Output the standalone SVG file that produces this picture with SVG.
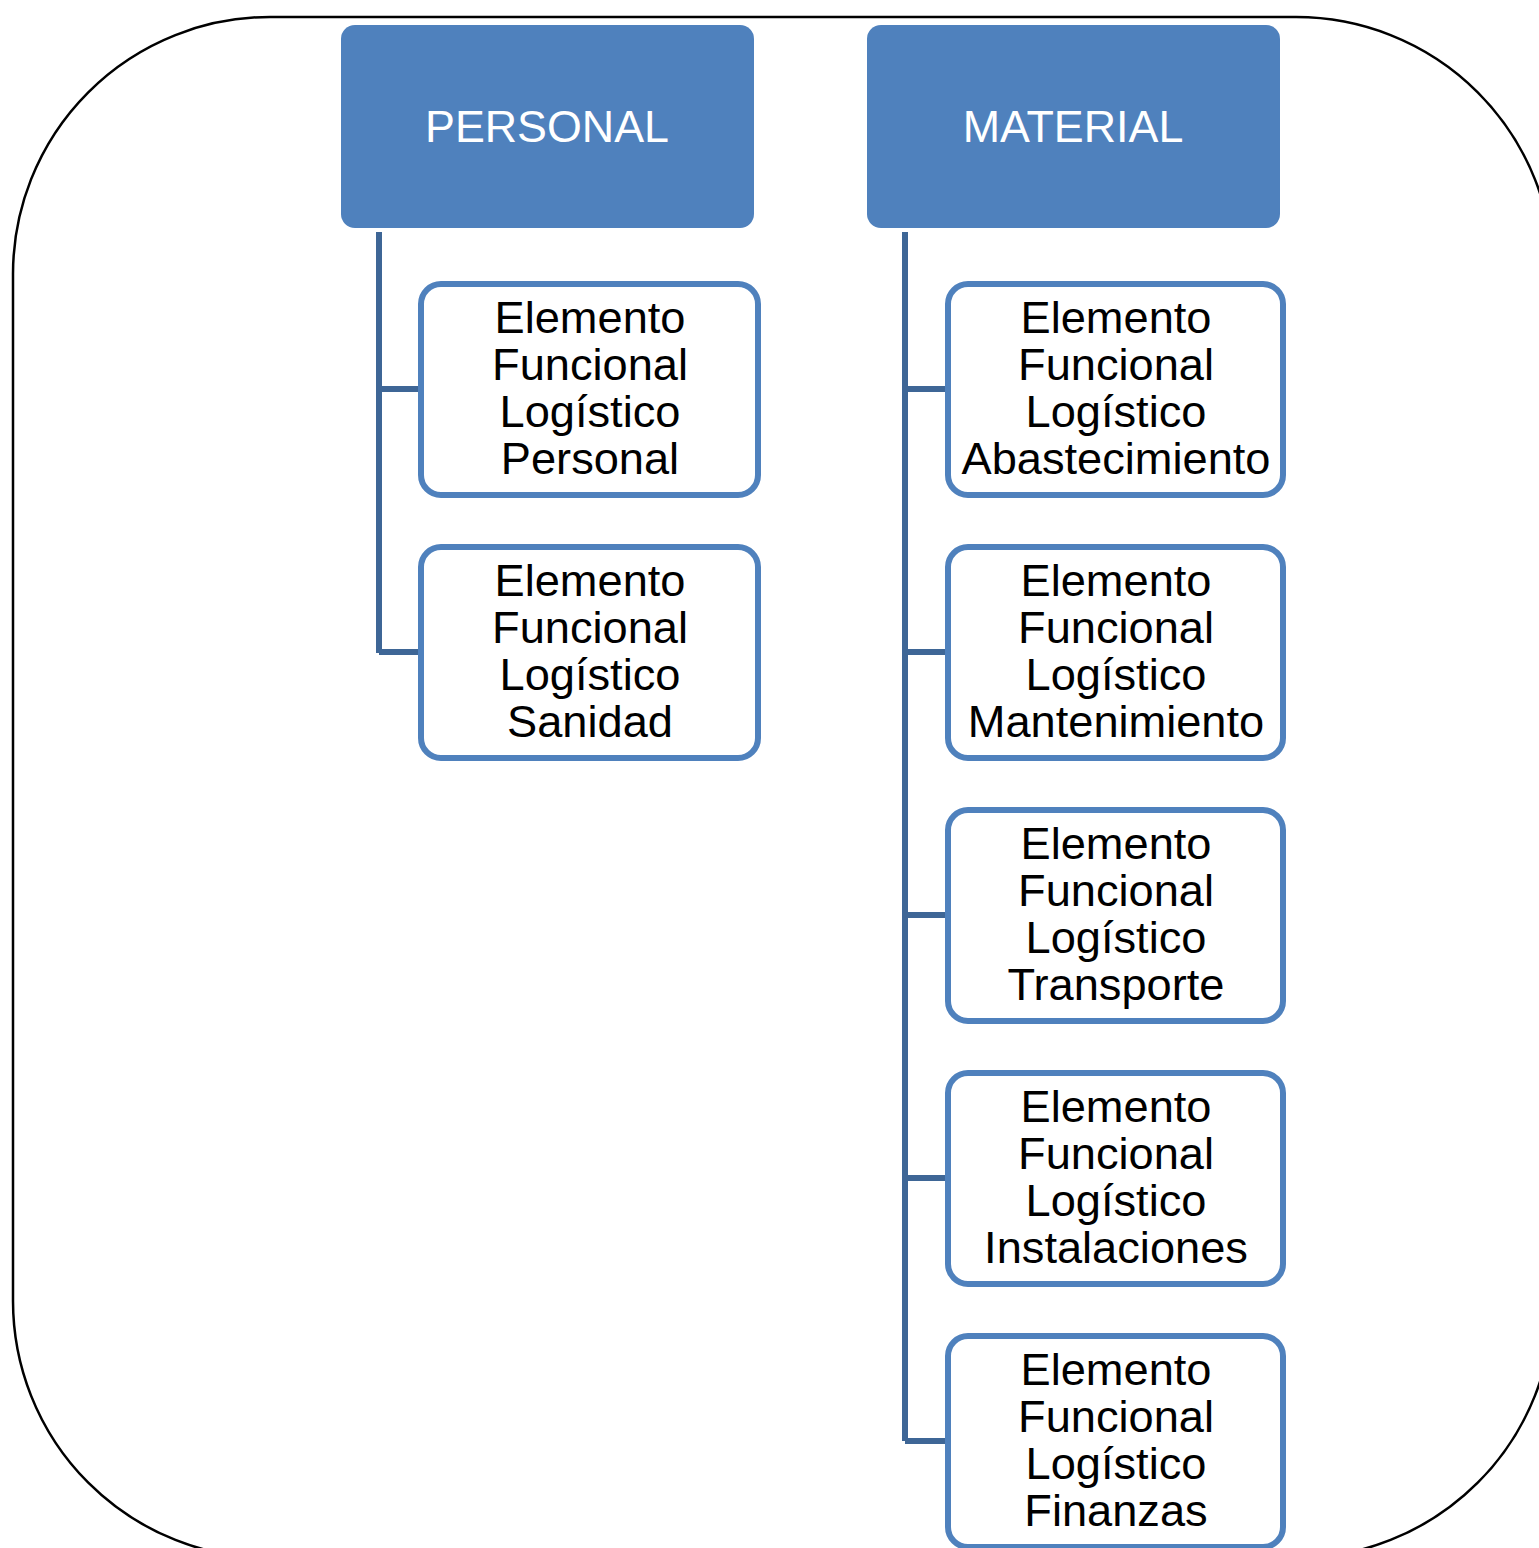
<svg xmlns="http://www.w3.org/2000/svg" width="1539" height="1548" viewBox="0 0 1539 1548">
<style>
.frame{fill:none;stroke:#000;stroke-width:2.5}
.head{fill:#4F81BD}
.headtxt{font-family:"Liberation Sans",Arial,sans-serif;font-size:44.8px;fill:#fff;text-anchor:middle}
.child{fill:#fff;stroke:#4F81BD;stroke-width:6}
.childtxt{font-family:"Liberation Sans",Arial,sans-serif;font-size:45.2px;fill:#000;text-anchor:middle}
.conn{fill:none;stroke:#3E6696;stroke-width:6;stroke-linejoin:round}
</style>
<rect width="1539" height="1548" fill="#fff"/>
<rect class="frame" x="13" y="17" width="1540" height="1541" rx="257" ry="257"/>
<g id="connectors">
<path class="conn" d="M379,232 V653 M379,389 H421 M379,652 H421"/>
<path class="conn" d="M905,232 V1441 M905,389 H948 M905,652 H948 M905,915 H948 M905,1178 H948 M905,1441 H948"/>
</g>
<g id="personal">
<rect class="head" x="341" y="25" width="413" height="203" rx="14"/>
<text class="headtxt" x="547" y="142">PERSONAL</text>
</g>
<g id="material">
<rect class="head" x="867" y="25" width="413" height="203" rx="14"/>
<text class="headtxt" x="1073" y="142">MATERIAL</text>
</g>
<g id="efl-personal">
<rect class="child" x="421" y="284" width="337" height="211" rx="20"/>
<text class="childtxt" x="590" y="333">Elemento</text>
<text class="childtxt" x="590" y="380">Funcional</text>
<text class="childtxt" x="590" y="427">Logístico</text>
<text class="childtxt" x="590" y="474">Personal</text>
</g>
<g id="efl-sanidad">
<rect class="child" x="421" y="547" width="337" height="211" rx="20"/>
<text class="childtxt" x="590" y="596">Elemento</text>
<text class="childtxt" x="590" y="643">Funcional</text>
<text class="childtxt" x="590" y="690">Logístico</text>
<text class="childtxt" x="590" y="737">Sanidad</text>
</g>
<g id="efl-abastecimiento">
<rect class="child" x="948" y="284" width="335" height="211" rx="20"/>
<text class="childtxt" x="1116" y="333">Elemento</text>
<text class="childtxt" x="1116" y="380">Funcional</text>
<text class="childtxt" x="1116" y="427">Logístico</text>
<text class="childtxt" x="1116" y="474">Abastecimiento</text>
</g>
<g id="efl-mantenimiento">
<rect class="child" x="948" y="547" width="335" height="211" rx="20"/>
<text class="childtxt" x="1116" y="596">Elemento</text>
<text class="childtxt" x="1116" y="643">Funcional</text>
<text class="childtxt" x="1116" y="690">Logístico</text>
<text class="childtxt" x="1116" y="737">Mantenimiento</text>
</g>
<g id="efl-transporte">
<rect class="child" x="948" y="810" width="335" height="211" rx="20"/>
<text class="childtxt" x="1116" y="859">Elemento</text>
<text class="childtxt" x="1116" y="906">Funcional</text>
<text class="childtxt" x="1116" y="953">Logístico</text>
<text class="childtxt" x="1116" y="1000">Transporte</text>
</g>
<g id="efl-instalaciones">
<rect class="child" x="948" y="1073" width="335" height="211" rx="20"/>
<text class="childtxt" x="1116" y="1122">Elemento</text>
<text class="childtxt" x="1116" y="1169">Funcional</text>
<text class="childtxt" x="1116" y="1216">Logístico</text>
<text class="childtxt" x="1116" y="1263">Instalaciones</text>
</g>
<g id="efl-finanzas">
<rect class="child" x="948" y="1336" width="335" height="211" rx="20"/>
<text class="childtxt" x="1116" y="1385">Elemento</text>
<text class="childtxt" x="1116" y="1432">Funcional</text>
<text class="childtxt" x="1116" y="1479">Logístico</text>
<text class="childtxt" x="1116" y="1526">Finanzas</text>
</g>
</svg>
